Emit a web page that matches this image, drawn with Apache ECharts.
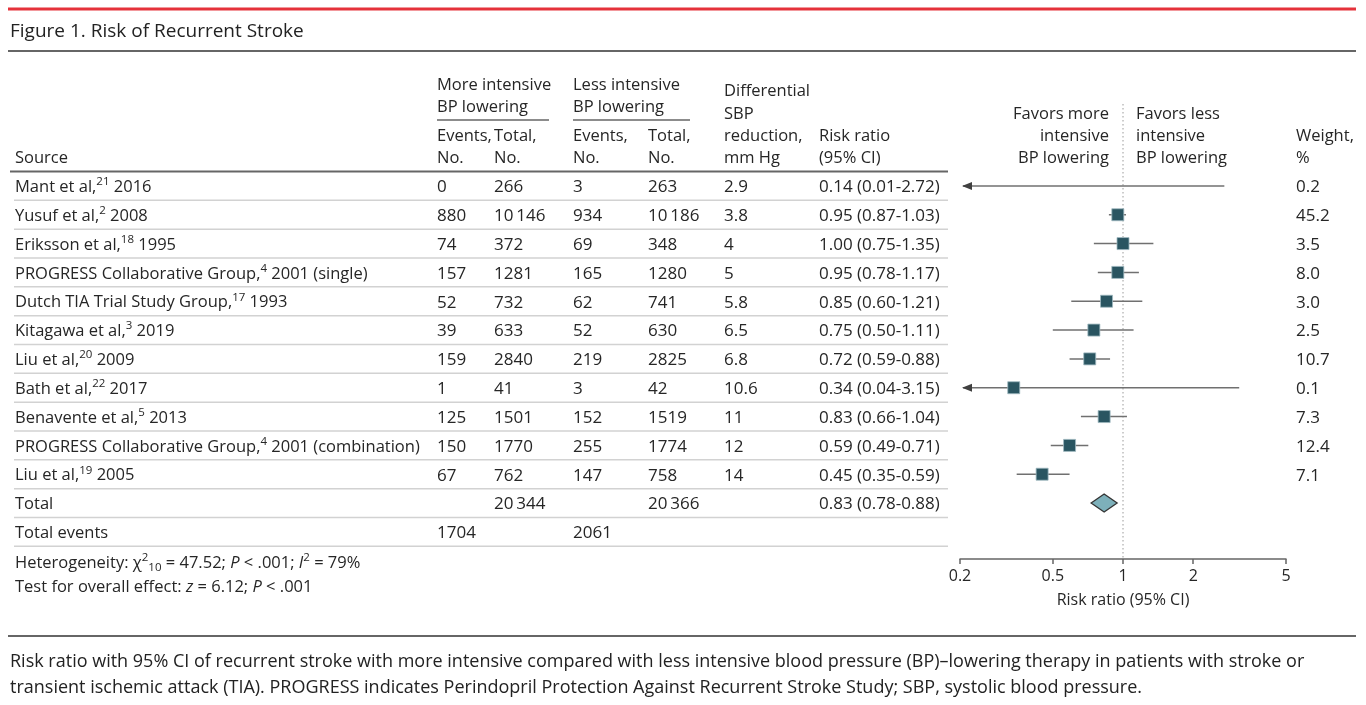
<!DOCTYPE html>
<html>
<head>
<meta charset="utf-8">
<script src="https://cdn.jsdelivr.net/npm/echarts@6/dist/echarts.min.js"></script>
<style>
html,body{margin:0;padding:0;background:#fff;}
#c{width:1366px;height:705px;}
</style>
</head>
<body>
<div id="c"></div>
<script>
// ---------- data ----------
const studies = ['Mant et al', 'Yusuf et al', 'Eriksson et al', 'PROGRESS Collaborative Group', 'Dutch TIA Trial Study Group', 'Kitagawa et al', 'Liu et al', 'Bath et al', 'Benavente et al', 'PROGRESS Collaborative Group', 'Liu et al'];
const refs = ['21', '2', '18', '4', '17', '3', '20', '22', '5', '4', '19'];
const years = ['2016', '2008', '1995', '2001 (single)', '1993', '2019', '2009', '2017', '2013', '2001 (combination)', '2005'];
const eventsMore = [0, 880, 74, 157, 52, 39, 159, 1, 125, 150, 67];
const totalMore = [266, 10146, 372, 1281, 732, 633, 2840, 41, 1501, 1770, 762];
const eventsLess = [3, 934, 69, 165, 62, 52, 219, 3, 152, 255, 147];
const totalLess = [263, 10186, 348, 1280, 741, 630, 2825, 42, 1519, 1774, 758];
const sbpDiff = ['2.9', '3.8', '4', '5', '5.8', '6.5', '6.8', '10.6', '11', '12', '14'];
const rr = [0.14, 0.95, 1.00, 0.95, 0.85, 0.75, 0.72, 0.34, 0.83, 0.59, 0.45];
const ciLo = [0.01, 0.87, 0.75, 0.78, 0.60, 0.50, 0.59, 0.04, 0.66, 0.49, 0.35];
const ciHi = [2.72, 1.03, 1.35, 1.17, 1.21, 1.11, 0.88, 3.15, 1.04, 0.71, 0.59];
const weights = ['0.2', '45.2', '3.5', '8.0', '3.0', '2.5', '10.7', '0.1', '7.3', '12.4', '7.1'];
const totalN = [20344, 20366];
const totalEvents = [1704, 2061];
const pooled = [0.83, 0.78, 0.88]; // RR, lo, hi
const xTicks = [0.2, 0.5, 1, 2, 5];

// ---------- layout / style ----------
const FONT = 'Open Sans';
const TXT = '#262626';
const L = Math.log10;
const X_MIN = L(xTicks[0]), X_MAX = L(xTicks[xTicks.length - 1]);
const COL = { src: 15, evM: 437, totM: 494, evL: 573, totL: 648, sbp: 724, rr: 819, w: 1296 };
const FS = 16.5;   // text size
const FN = 17;     // numeric cell size
const DY = 1.5;    // baseline nudge
const rich = {
  n: { fontFamily: FONT, fontSize: FS, fill: TXT, lineHeight: 26 },
  sup: { fontFamily: FONT, fontSize: 11.5, fill: TXT, padding: [0, 0, 11, 0] },
  sub: { fontFamily: FONT, fontSize: 11.5, fill: TXT, padding: [9, 0, 0, 0] },
  it: { fontFamily: FONT, fontSize: FS, fill: TXT, fontStyle: 'italic', lineHeight: 26 }
};
function fmtN(n) {
  const s = String(n);
  return n >= 10000 ? s.slice(0, s.length - 3) + '\u2009' + s.slice(-3) : s;
}
function fmtRR(a, b, c) { return a.toFixed(2) + ' (' + b.toFixed(2) + '-' + c.toFixed(2) + ')'; }

// table rows: cells [x, text, kind]  kind: 'r' rich, 't' text, undefined numeric
const rows = studies.map((s, i) => [
  [COL.src, '{n|' + s + ',}{sup|' + refs[i] + '}{n| ' + years[i] + '}', 'r'],
  [COL.evM, String(eventsMore[i])],
  [COL.totM, fmtN(totalMore[i])],
  [COL.evL, String(eventsLess[i])],
  [COL.totL, fmtN(totalLess[i])],
  [COL.sbp, sbpDiff[i]],
  [COL.rr, fmtRR(rr[i], ciLo[i], ciHi[i])],
  [COL.w, weights[i]]
]);
rows.push([[COL.src, 'Total', 't'], [COL.totM, fmtN(totalN[0])], [COL.totL, fmtN(totalN[1])], [COL.rr, fmtRR(pooled[0], pooled[1], pooled[2])]]);
rows.push([[COL.src, 'Total events', 't'], [COL.evM, String(totalEvents[0])], [COL.evL, String(totalEvents[1])]]);

function renderRow(params, api) {
  const i = params.dataIndex;
  const y = api.coord([X_MIN, i])[1] + DY;
  const yLine = api.coord([X_MIN, i + 0.5])[1];
  const children = rows[i].map(c => c[2] === 'r'
    ? { type: 'text', x: c[0], y: y, style: { text: c[1], rich: rich, verticalAlign: 'middle', align: 'left' } }
    : { type: 'text', x: c[0], y: y, style: { text: c[1], fontFamily: FONT, fontSize: c[2] === 't' ? FS : FN, fill: TXT, verticalAlign: 'middle', align: 'left' } });
  children.push({ type: 'line', shape: { x1: 14, y1: yLine, x2: 948, y2: yLine }, style: { stroke: '#d2d2d2', lineWidth: 1.5 } });
  return { type: 'group', children };
}

function renderCI(params, api) {
  const lo = api.value(0), hi = api.value(1), i = api.value(2);
  const p1 = api.coord([Math.max(lo, X_MIN), i]);
  const p2 = api.coord([Math.min(hi, X_MAX), i]);
  const ch = [{ type: 'line', shape: { x1: p1[0] + (lo < X_MIN ? 3 : 0), y1: p1[1], x2: p2[0], y2: p2[1] }, style: { stroke: '#707070', lineWidth: 1.5 } }];
  if (lo < X_MIN) {
    const x = p1[0] + 2, y = p1[1];
    ch.push({ type: 'polygon', shape: { points: [[x, y], [x + 10, y - 4], [x + 10, y + 4]] }, style: { fill: '#404040' } });
  }
  return { type: 'group', children: ch };
}

function renderDiamond(params, api) {
  const lo = api.coord([api.value(0), api.value(3)]);
  const mid = api.coord([api.value(1), api.value(3)]);
  const hi = api.coord([api.value(2), api.value(3)]);
  const hw = Math.max(13, (hi[0] - lo[0]) / 2);
  const y = mid[1];
  return { type: 'polygon', shape: { points: [[mid[0] - hw, y], [mid[0], y - 9], [mid[0] + hw, y], [mid[0], y + 9]] },
    style: { fill: '#7db0ba', stroke: '#333', lineWidth: 1.3 } };
}

function renderRef(params, api) {
  const x = api.coord([api.value(0), 0])[0];
  return { type: 'line', shape: { x1: x, y1: 104, x2: x, y2: 559 }, style: { stroke: '#9a9a9a', lineWidth: 1, lineDash: [1.5, 2.5] } };
}

function T(x, y, text, opt) {
  return Object.assign({ type: 'text', x: x, y: y + DY, silent: true,
    style: Object.assign({ text: text, fontFamily: FONT, fontSize: FS, fill: TXT, verticalAlign: 'middle', align: 'left' }, opt || {}) });
}
function HL(x1, y, x2, color, w) {
  return { type: 'line', silent: true, shape: { x1: x1, y1: y, x2: x2, y2: y }, style: { stroke: color, lineWidth: w } };
}

const graphics = [
  HL(8, 9, 1356, '#e5323b', 3),
  T(10, 30, 'Figure 1. Risk of Recurrent Stroke', { fontSize: 19, fill: '#222' }),
  HL(8, 51, 1356, '#666', 2),
  T(437, 84, 'More intensive'), T(437, 106, 'BP lowering'), HL(437, 120, 549, '#666', 1.5),
  T(573, 84, 'Less intensive'), T(573, 106, 'BP lowering'), HL(573, 120, 690, '#666', 1.5),
  T(437, 135, 'Events,'), T(494, 135, 'Total,'), T(437, 157, 'No.'), T(494, 157, 'No.'),
  T(573, 135, 'Events,'), T(648, 135, 'Total,'), T(573, 157, 'No.'), T(648, 157, 'No.'),
  T(724, 90, 'Differential'), T(724, 113, 'SBP'), T(724, 135, 'reduction,'), T(724, 157, 'mm Hg'),
  T(819, 135, 'Risk ratio'), T(819, 157, '(95% CI)'),
  T(15, 157, 'Source'),
  T(1109, 113, 'Favors more', { align: 'right' }), T(1109, 135, 'intensive', { align: 'right' }), T(1109, 157, 'BP lowering', { align: 'right' }),
  T(1136, 113, 'Favors less'), T(1136, 135, 'intensive'), T(1136, 157, 'BP lowering'),
  T(1296, 135, 'Weight,'), T(1296, 157, '%'),
  HL(10, 171.5, 948, '#666', 2),
  { type: 'text', x: 15, y: 562 + DY, silent: true, style: { text: '{n|Heterogeneity: \u03c7}{sup|2}{sub|10}{n| = 47.52; }{it|P}{n| < .001; }{it|I}{sup|2}{n| = 79%}', rich: rich, verticalAlign: 'middle' } },
  { type: 'text', x: 15, y: 586 + DY, silent: true, style: { text: '{n|Test for overall effect: }{it|z}{n| = 6.12; }{it|P}{n| < .001}', rich: rich, verticalAlign: 'middle' } },
  HL(8, 636, 1356, '#666', 2),
  T(10, 660, 'Risk ratio with 95% CI of recurrent stroke with more intensive compared with less intensive blood pressure (BP)\u2013lowering therapy in patients with stroke or', { fontSize: 18, fill: '#222' }),
  T(10, 686, 'transient ischemic attack (TIA). PROGRESS indicates Perindopril Protection Against Recurrent Stroke Study; SBP, systolic blood pressure.', { fontSize: 18, fill: '#222' })
];

const chart = echarts.init(document.getElementById('c'), null, { renderer: 'canvas' });
chart.setOption({
  animation: false,
  backgroundColor: '#fff',
  grid: { left: 960, width: 326, top: 171.5, bottom: 158.7, containLabel: false },
  xAxis: {
    type: 'value', min: X_MIN, max: X_MAX, offset: 12.6, position: 'bottom',
    axisLine: { onZero: false, lineStyle: { color: '#666', width: 1.5 } },
    axisTick: { show: true, length: 5, lineStyle: { color: '#666', width: 1.5 }, customValues: xTicks.map(L) },
    axisLabel: { customValues: xTicks.map(L), margin: 10, fontFamily: FONT, fontSize: 16, color: TXT,
      formatter: v => String(parseFloat(Math.pow(10, v).toPrecision(3))) },
    splitLine: { show: false },
    name: 'Risk ratio (95% CI)', nameLocation: 'middle', nameGap: 34,
    nameTextStyle: { fontFamily: FONT, fontSize: 16, color: TXT }
  },
  yAxis: { type: 'value', inverse: true, min: -0.5, max: 12.5, show: false },
  graphic: graphics,
  series: [
    { type: 'custom', name: 'table', renderItem: renderRow, data: rows.map((r, i) => [X_MIN, i]), encode: { x: 0, y: 1 }, silent: true, z: 1 },
    { type: 'custom', name: 'ref', renderItem: renderRef, data: [[0, 0]], encode: { x: 0, y: 1 }, silent: true, z: 2 },
    { type: 'custom', name: 'ci', renderItem: renderCI, data: rr.map((v, i) => [L(ciLo[i]), L(ciHi[i]), i]), encode: { x: [0, 1], y: 2 }, silent: true, z: 3 },
    { type: 'scatter', name: 'rr', symbol: 'rect', symbolSize: 12,
      data: rr.map((v, i) => [L(v), i]).filter(d => d[0] >= X_MIN && d[0] <= X_MAX),
      itemStyle: { color: '#2a5561', borderColor: '#9fb9c0', borderWidth: 0.8, opacity: 1 }, silent: true, z: 4 },
    { type: 'custom', name: 'pooled', renderItem: renderDiamond, data: [[L(pooled[1]), L(pooled[0]), L(pooled[2]), 11]], encode: { x: [0, 1, 2], y: 3 }, silent: true, z: 4 }
  ]
});
</script>
</body>
</html>
